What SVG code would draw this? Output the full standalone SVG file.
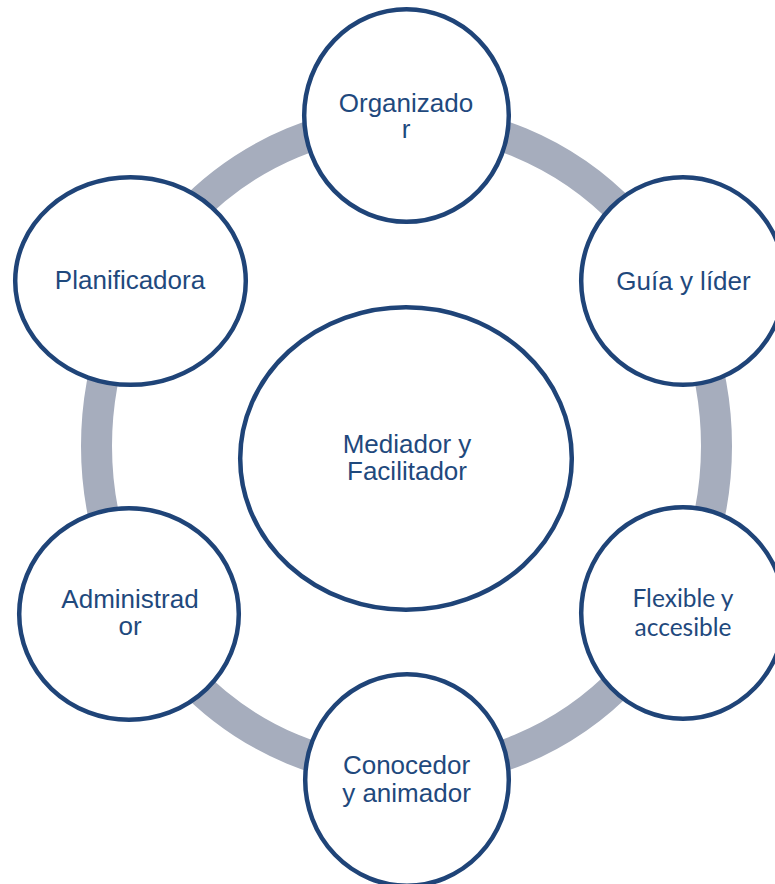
<svg xmlns="http://www.w3.org/2000/svg" width="775" height="884" viewBox="0 0 775 884">
<style>
.node{fill:#FFFFFF;stroke:#1F4478;stroke-width:4.5}
.t{font-family:"Liberation Sans",Arial,sans-serif;font-size:26px;fill:#1F497D;text-anchor:middle}
.c{font-family:Lato,"Open Sans",sans-serif;font-size:24.5px;fill:#1F497D;text-anchor:middle}
</style>
<rect width="775" height="884" fill="#FFFFFF"/>
<g id="connectors">
<ellipse cx="406.5" cy="446" rx="310" ry="326" fill="none" stroke="#A6ADBD" stroke-width="31"/>
</g>
<g id="center">
<ellipse class="node" cx="406" cy="458.5" rx="165.8" ry="151.3"/>
<text class="t" x="407" y="453">Mediador y</text>
<text class="t" x="407" y="480">Facilitador</text>
</g>
<g id="organizador">
<ellipse class="node" cx="406.5" cy="115.5" rx="102.3" ry="106.3"/>
<text class="t" x="406" y="112">Organizado</text>
<text class="t" x="406" y="137.5">r</text>
</g>
<g id="guia">
<ellipse class="node" cx="683" cy="281" rx="101.8" ry="103.8"/>
<text class="t" x="683.5" y="290">Guía y líder</text>
</g>
<g id="flexible">
<ellipse class="node" cx="683" cy="613" rx="101.8" ry="105.8"/>
<text class="c" x="683" y="607">Flexible y</text>
<text class="c" x="683" y="636">accesible</text>
</g>
<g id="conocedor">
<ellipse class="node" cx="407" cy="780" rx="101.8" ry="105.8"/>
<text class="t" x="406.5" y="774">Conocedor</text>
<text class="t" x="406.5" y="802">y animador</text>
</g>
<g id="administrador">
<ellipse class="node" cx="129" cy="614" rx="109.8" ry="105.8"/>
<text class="t" x="130" y="608">Administrad</text>
<text class="t" x="130" y="635">or</text>
</g>
<g id="planificadora">
<ellipse class="node" cx="130.5" cy="281" rx="115.3" ry="103.8"/>
<text class="t" x="130" y="289">Planificadora</text>
</g>
</svg>
